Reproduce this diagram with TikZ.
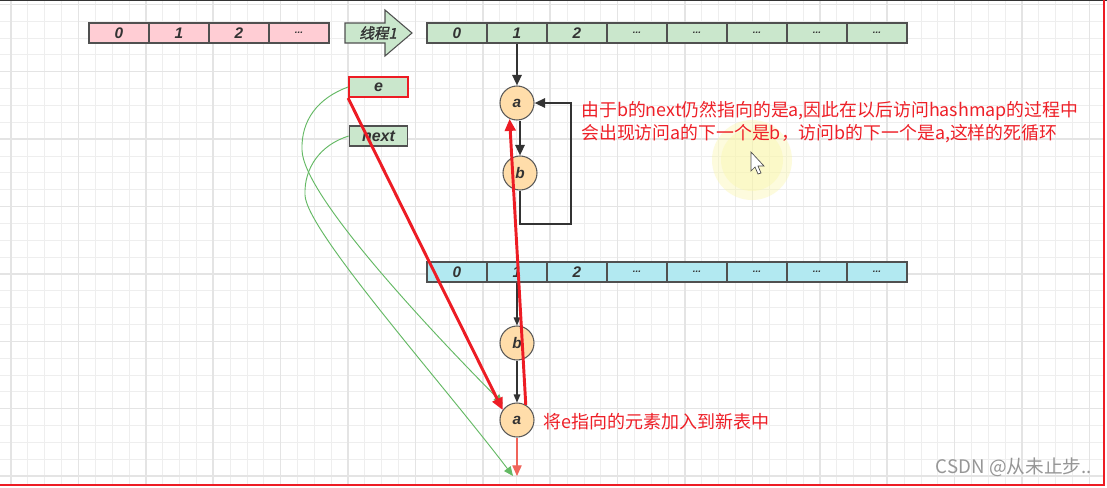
\documentclass[tikz,border=0pt]{standalone}
\usepackage{fontspec}
\setmainfont{Liberation Sans}
\newfontfamily\cjk{Noto Sans CJK SC}
\newfontfamily\cjkslant[FakeSlant=0.2,FakeBold=1.5]{Noto Sans CJK SC}
\usetikzlibrary{arrows.meta}

\definecolor{cellpink}{RGB}{255,205,212}
\definecolor{cellgreen}{RGB}{202,231,204}
\definecolor{cellcyan}{RGB}{178,233,241}
\definecolor{cellline}{RGB}{80,80,80}
\definecolor{celltext}{RGB}{51,51,51}
\definecolor{ballfill}{RGB}{255,221,170}
\definecolor{ballline}{RGB}{90,90,90}
\definecolor{linkdark}{RGB}{51,51,51}
\definecolor{arrowred}{RGB}{237,28,36}
\definecolor{notered}{RGB}{238,32,40}
\definecolor{curvegreen}{RGB}{100,185,100}
\definecolor{tailred}{RGB}{240,100,90}
\definecolor{markgray}{RGB}{150,150,150}
\definecolor{glowyellow}{RGB}{250,246,170}
\definecolor{gridminor}{RGB}{238,238,238}
\definecolor{gridmajor}{RGB}{228,228,228}

\begin{document}
\begin{tikzpicture}[x=0.75pt,y=0.75pt,yscale=-1,xscale=1,
        cell/.style={draw=cellline, line width=0.8pt, minimum width=45pt, minimum height=15pt, inner sep=0pt, text=celltext, font=\bfseries\itshape\fontsize{11.5}{11.5}\selectfont},
        ball/.style={circle, draw=ballline, line width=0.8pt, fill=ballfill, minimum size=25.5pt, inner sep=0pt, text=celltext, font=\bfseries\itshape\fontsize{11.5}{11.5}\selectfont},
        darklink/.style={draw=linkdark, line width=1.6pt, -{Triangle[length=8pt,width=7pt]}},
        thinlink/.style={draw=linkdark, line width=0.8pt, -{Triangle[length=6pt,width=5pt]}},
        redlink/.style={draw=arrowred, line width=2.2pt, -{Triangle[length=9pt,width=8pt]}},
        greenlink/.style={draw=curvegreen, line width=0.7pt, -{Triangle[length=7pt,width=6pt]}},
        note/.style={text=notered, inner sep=0pt, anchor=west}]
        \useasboundingbox (0,0) rectangle (1107,487);
        \fill[white] (0,0) rectangle (1107,487);
        % background grid
        \begin{scope}[shift={(11,4.25)}]
        \draw[gridminor, line width=0.6pt, step=12.6375pt] (-11,-4.25) grid (1093,481);
        \draw[gridmajor, line width=1.1pt, step=50.55pt] (-11,-4.25) grid (1093,481);
        \end{scope}
        % highlight of the pointer
        \fill[glowyellow, opacity=0.4] (752,160) circle (40);
        \fill[glowyellow, opacity=0.4] (752,160) circle (31);
        \draw[black!70, fill=white, line width=0.5pt] (751,152) -- (751,171) -- (755,167) -- (758,174) -- (761,173) -- (758,166) -- (764,166) -- cycle;

        % old table
        \node[cell, fill=cellpink] (old0) at (119,33) {0};
        \node[cell, fill=cellpink] (old1) at (179,33) {1};
        \node[cell, fill=cellpink] (old2) at (239,33) {2};
        \node[cell, fill=cellpink] (old3) at (299,33) {\fontsize{7.5}{7.5}\selectfont ...};

        % thread arrow
        \draw[draw=cellline, fill=cellgreen, line width=0.8pt] (345,23) -- (385,23) -- (385,10) -- (412,33) -- (385,56) -- (385,43) -- (345,43) -- cycle;
        \node[text=celltext, font=\cjkslant\fontsize{11}{11}\selectfont] (thread) at (378,33) {线程1};

        % table seen by thread 1
        \node[cell, fill=cellgreen] (t0) at (457,33) {0};
        \node[cell, fill=cellgreen] (t1) at (517,33) {1};
        \node[cell, fill=cellgreen] (t2) at (577,33) {2};
        \node[cell, fill=cellgreen] (t3) at (637,33) {\fontsize{7.5}{7.5}\selectfont ...};
        \node[cell, fill=cellgreen] (t4) at (697,33) {\fontsize{7.5}{7.5}\selectfont ...};
        \node[cell, fill=cellgreen] (t5) at (757,33) {\fontsize{7.5}{7.5}\selectfont ...};
        \node[cell, fill=cellgreen] (t6) at (817,33) {\fontsize{7.5}{7.5}\selectfont ...};
        \node[cell, fill=cellgreen] (t7) at (877,33) {\fontsize{7.5}{7.5}\selectfont ...};

        % pointers e and next
        \node[cell, fill=cellgreen, draw=arrowred, line width=1.6pt, minimum width=44pt, font=\bfseries\itshape\fontsize{12}{12}\selectfont] (ebox) at (378.5,87) {e};
        \node[cell, fill=cellgreen, minimum width=44pt, font=\bfseries\itshape\fontsize{12}{12}\selectfont] (nextbox) at (378.5,136) {next};

        % the loop a -> b -> a
        \node[ball] (ta) at (517,103) {a};
        \node[ball] (tb) at (520,173) {b};
        \coordinate (loopcorner) at (571,224);
        \draw[darklink] (t1.south) -- (ta.north);
        \draw[darklink] (tb.north |- ta.south) -- (tb.north);
        \draw[darklink] (tb.south) |- (loopcorner) |- (ta.east);

        % new table
        \node[cell, fill=cellcyan] (n0) at (457,272) {0};
        \node[cell, fill=cellcyan] (n1) at (517,272) {1};
        \node[cell, fill=cellcyan] (n2) at (577,272) {2};
        \node[cell, fill=cellcyan] (n3) at (637,272) {\fontsize{7.5}{7.5}\selectfont ...};
        \node[cell, fill=cellcyan] (n4) at (697,272) {\fontsize{7.5}{7.5}\selectfont ...};
        \node[cell, fill=cellcyan] (n5) at (757,272) {\fontsize{7.5}{7.5}\selectfont ...};
        \node[cell, fill=cellcyan] (n6) at (817,272) {\fontsize{7.5}{7.5}\selectfont ...};
        \node[cell, fill=cellcyan] (n7) at (877,272) {\fontsize{7.5}{7.5}\selectfont ...};

        \node[ball] (nb) at (517,343) {b};
        \node[ball] (na) at (517,420) {a};
        \coordinate (tailred) at (517,476);
        \coordinate (tailgreen) at (513,476);
        \draw[thinlink] (n1.south) -- (nb.north);
        \draw[thinlink] (nb.south) -- (na.north);
        \draw[draw=tailred, line width=0.8pt, -{Triangle[length=8pt,width=7pt]}] (na.south) -- (tailred);

        % moves of e and next
        \draw[greenlink, shorten >=3pt] (ebox.west) .. controls (318,98) and (301,120) .. (302,150) .. controls (303,195) and (430,330) .. (na.130);
        \draw[greenlink] (nextbox.west) .. controls (320,145) and (304,168) .. (305,195) .. controls (306,230) and (440,380) .. (tailgreen);
        \draw[redlink] (ebox.south west) -- (na.145);
        \draw[redlink] (na.60) -- (ta.245);

        % notes
        \node[note, align=left, font=\cjk\fontsize{13.4}{17.2}\selectfont] (loopnote) at (581,122) {由于b的next仍然指向的是a,因此在以后访问hashmap的过程中\\会出现访问a的下一个是b，访问b的下一个是a,这样的死循环};
        \node[note, font=\cjk\fontsize{13.5}{13.5}\selectfont] (movenote) at (543,422) {将e指向的元素加入到新表中};
        \node[anchor=east, inner sep=0pt, text=markgray, font=\cjk\fontsize{14}{14}\selectfont] (mark) at (1092,467) {CSDN @从未止步..};

        % frame
        \draw[black!80, line width=0.75pt] (0,0.5) -- (1107,0.5);
        \draw[arrowred, line width=1.5pt] (1104,0) -- (1104,485) -- (0,485);
\end{tikzpicture}
\end{document}
